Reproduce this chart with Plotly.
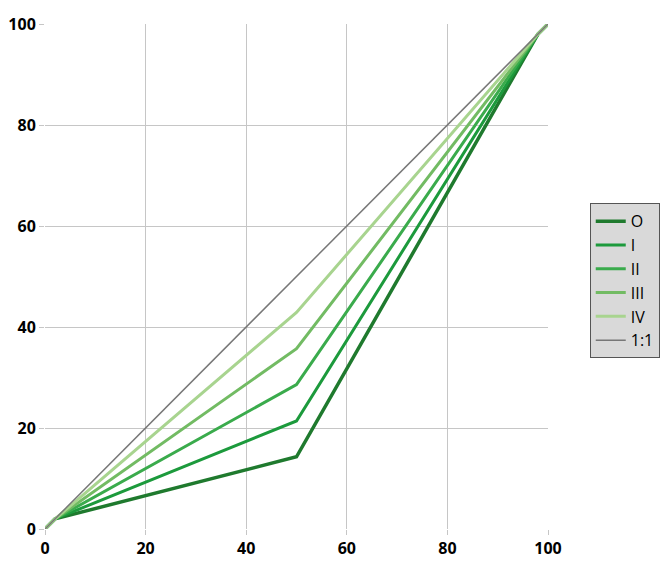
import plotly.graph_objects as go

x_vals = [0, 2, 50, 98, 100]
series_names = ["O", "I", "II", "III", "IV", "1:1"]
y_O = [0, 2, 14.3, 98, 100]
y_I = [0, 2, 21.4, 98, 100]
y_II = [0, 2, 28.6, 98, 100]
y_III = [0, 2, 35.7, 98, 100]
y_IV = [0, 2, 42.9, 98, 100]
y_11 = [0, 2, 50, 98, 100]
tick_vals = [0, 20, 40, 60, 80, 100]

colors = ["#1f7a2e", "#1c9a3c", "#3aab4c", "#72bb63", "#a8d48f", "#777777"]
widths = [3.5, 3, 3, 3, 3, 1.5]
ys = [y_O, y_I, y_II, y_III, y_IV, y_11]

fig = go.Figure()
for name, y, c, w in zip(series_names, ys, colors, widths):
    fig.add_trace(go.Scatter(x=x_vals, y=y, mode="lines", name=name,
                             line=dict(color=c, width=w), cliponaxis=False))

axis_common = dict(range=[0, 100], tickvals=tick_vals, showgrid=True,
                   gridcolor="#c6c6c6", gridwidth=1, zeroline=False,
                   showline=False, ticks="outside", ticklen=5,
                   tickcolor="#c6c6c6", automargin=False,
                   tickfont=dict(family="Open Sans", size=16, color="#000000",
                                 weight="bold"))

fig.update_layout(
    width=668, height=572,
    margin=dict(l=37, r=128, t=16, b=51, autoexpand=False),
    plot_bgcolor="white", paper_bgcolor="white",
    xaxis=dict(**axis_common),
    yaxis=dict(**axis_common),
    showlegend=True,
    legend=dict(x=1.083, y=0.645, xanchor="left", yanchor="top",
                bgcolor="#d9d9d9", bordercolor="#555555", borderwidth=1,
                font=dict(family="Open Sans", size=16, color="#000000"),
                tracegroupgap=0, itemwidth=30),
)

fig.write_html("out.html")
